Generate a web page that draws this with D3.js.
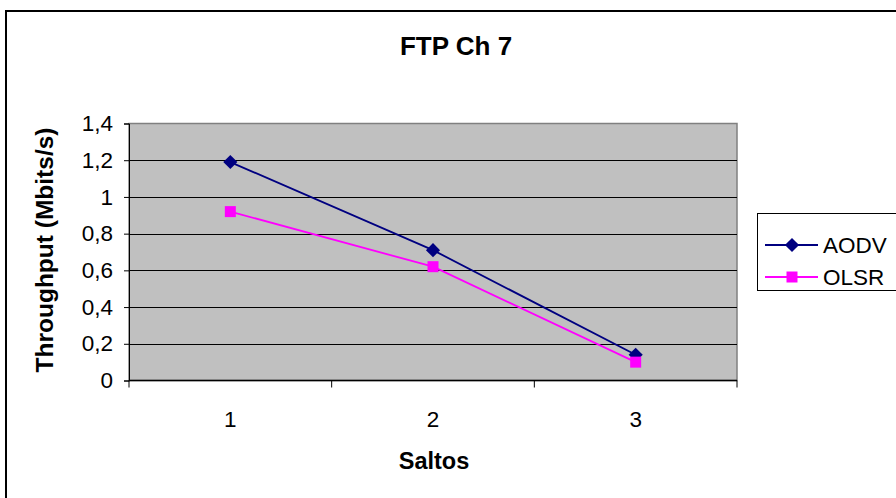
<!DOCTYPE html>
<html>
<head>
<meta charset="utf-8">
<script src="https://cdn.jsdelivr.net/npm/d3@7"></script>
<style>
    body { margin: 0; background: #fff; }
    svg { display: block; font-family: "Liberation Sans", Arial, sans-serif; }
</style>
</head>
<body>
<div id="chart"></div>
<script>
// chart data
var categories = ["1", "2", "3"];
var seriesNames = ["AODV", "OLSR"];
var aodvValues = [1.19, 0.71, 0.14];
var olsrValues = [0.92, 0.62, 0.10];
var yTicks = [0, 0.2, 0.4, 0.6, 0.8, 1, 1.2, 1.4];

var width = 896,
    height = 498;
var plot = {left: 129, top: 123.5, right: 737, bottom: 380.5};

var svg = d3.select("#chart").append("svg")
            .attr("width", width)
            .attr("height", height);

// outer chart frame (cropped at right/bottom)
svg.append("rect")
    .attr("x", 6).attr("y", 11)
    .attr("width", width + 20).attr("height", height + 20)
    .attr("fill", "#fff")
    .attr("stroke", "#000")
    .attr("stroke-width", 2);

var x = d3.scaleBand()
            .domain(categories)
            .range([plot.left, plot.right]);
var y = d3.scaleLinear()
            .domain([0, 1.4])
            .range([plot.bottom, plot.top]);

// plot area
svg.append("rect")
    .attr("x", plot.left).attr("y", plot.top)
    .attr("width", plot.right - plot.left)
    .attr("height", plot.bottom - plot.top)
    .attr("fill", "#c0c0c0")
    .attr("stroke", "#808080")
    .attr("stroke-width", 1.5);

// gridlines
svg.append("g").selectAll("line")
    .data(yTicks.filter(function(d) { return d > 0 && d < 1.4; }))
    .enter().append("line")
    .attr("x1", plot.left).attr("x2", plot.right)
    .attr("y1", function(d) { return Math.round(y(d)) + 0.5; })
    .attr("y2", function(d) { return Math.round(y(d)) + 0.5; })
    .attr("stroke", "#000")
    .attr("stroke-width", 1);

// y axis
var yAxis = d3.axisLeft(y)
                .tickValues(yTicks)
                .tickSize(5)
                .tickPadding(11)
                .tickFormat(function(d) { return d3.format("~g")(d).replace(".", ","); });
var gy = svg.append("g")
            .attr("transform", "translate(" + plot.left + ",0)")
            .call(yAxis);
gy.select(".domain").attr("stroke", "#000");
gy.selectAll(".tick line").attr("stroke", "#000");
gy.selectAll("text")
    .attr("font-size", 22.5)
    .attr("font-family", "Liberation Sans, Arial, sans-serif")
    .attr("fill", "#000");

// x axis: ticks on category boundaries
var gx = svg.append("g")
            .attr("transform", "translate(0," + plot.bottom + ")");
gx.append("line")
    .attr("x1", plot.left).attr("x2", plot.right)
    .attr("stroke", "#000").attr("stroke-width", 1.5);
var bounds = categories.map(function(c) { return x(c); }).concat([x(categories[categories.length - 1]) + x.bandwidth()]);
gx.selectAll(".xt")
    .data(bounds)
    .enter().append("line")
    .attr("class", "xt")
    .attr("x1", function(d) { return d; })
    .attr("x2", function(d) { return d; })
    .attr("y1", 0).attr("y2", 7)
    .attr("stroke", "#000");
gx.selectAll(".xl")
    .data(categories)
    .enter().append("text")
    .attr("class", "xl")
    .attr("x", function(d) { return x(d) + x.bandwidth() / 2; })
    .attr("y", 46.5)
    .attr("text-anchor", "middle")
    .attr("font-size", 22.5)
    .text(function(d) { return d; });

// titles
svg.append("text")
    .attr("x", 456).attr("y", 55)
    .attr("text-anchor", "middle")
    .attr("font-size", 26)
    .attr("font-weight", "bold")
    .text("FTP Ch 7");
svg.append("text")
    .attr("x", 434).attr("y", 469)
    .attr("text-anchor", "middle")
    .attr("font-size", 23.5)
    .attr("font-weight", "bold")
    .text("Saltos");
svg.append("text")
    .attr("transform", "translate(53,250) rotate(-90)")
    .attr("text-anchor", "middle")
    .attr("font-size", 24.5)
    .attr("font-weight", "bold")
    .text("Throughput (Mbits/s)");

// series
var series = [
    {name: seriesNames[0], values: aodvValues, color: "#000080", rot: 45, size: 100},
    {name: seriesNames[1], values: olsrValues, color: "#ff00ff", rot: 0, size: 121}
];
var line = d3.line()
            .x(function(d, i) { return x(categories[i]) + x.bandwidth() / 2; })
            .y(function(d) { return y(d); });

series.forEach(function(s) {
    svg.append("path")
        .attr("d", line(s.values))
        .attr("fill", "none")
        .attr("stroke", s.color)
        .attr("stroke-width", 1.8);
    svg.selectAll(null)
        .data(s.values)
        .enter().append("path")
        .attr("d", d3.symbol().type(d3.symbolSquare).size(s.size))
        .attr("transform", function(d, i) {
            return "translate(" + (x(categories[i]) + x.bandwidth() / 2) + "," + y(d) + ") rotate(" + s.rot + ")";
        })
        .attr("fill", s.color);
});

// legend
var legend = svg.append("g");
legend.append("rect")
    .attr("x", 757.5).attr("y", 213.5)
    .attr("width", 160).attr("height", 77)
    .attr("fill", "#fff")
    .attr("stroke", "#000");
series.forEach(function(s, i) {
    var ly = 245 + i * 32;
    legend.append("line")
        .attr("x1", 765).attr("x2", 818)
        .attr("y1", ly).attr("y2", ly)
        .attr("stroke", s.color)
        .attr("stroke-width", 1.8);
    legend.append("path")
        .attr("d", d3.symbol().type(d3.symbolSquare).size(s.size))
        .attr("transform", "translate(792," + ly + ") rotate(" + s.rot + ")")
        .attr("fill", s.color);
    legend.append("text")
        .attr("x", 823).attr("y", ly + 8)
        .attr("font-size", 22.5)
        .text(s.name);
});
</script>
</body>
</html>
